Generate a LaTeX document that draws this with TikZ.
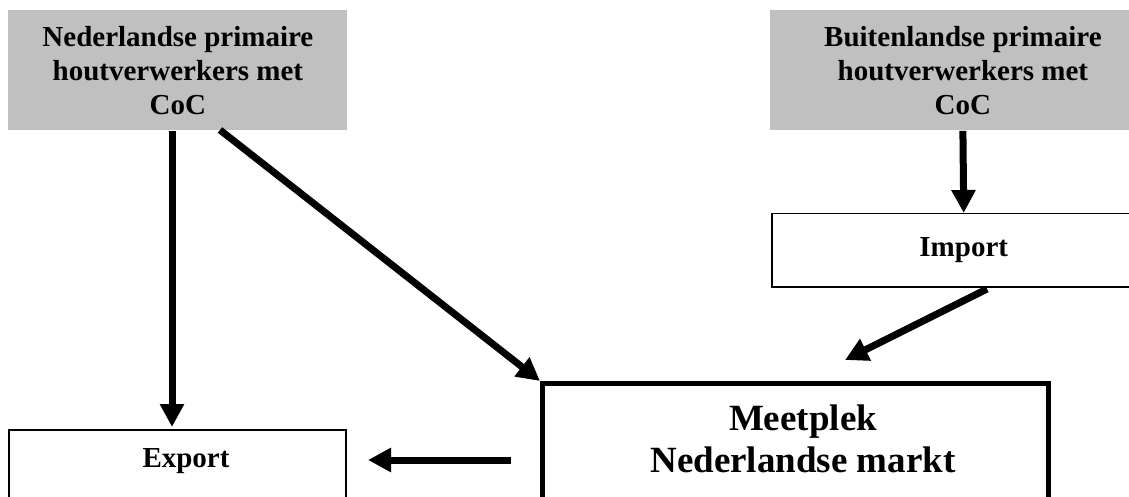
\documentclass[tikz,border=0pt]{standalone}
\usepackage{fontspec}
\setmainfont{Liberation Serif}
\usetikzlibrary{arrows.meta}
\definecolor{boxgray}{RGB}{192,192,192}

\begin{document}
\begin{tikzpicture}[x=0.5pt, y=-0.5pt,
    greybox/.style={fill=boxgray, inner sep=0pt, anchor=north west, align=center,
      font=\fontsize{14.5}{17}\selectfont\bfseries},
    thinbox/.style={draw, line width=0.75pt, inner sep=0pt, anchor=north west,
      font=\fontsize{14.5}{17}\selectfont\bfseries},
    flow/.style={line width=3.5pt, -{Triangle[length=11.5pt, width=11.5pt]}}]
  \useasboundingbox (0, 0) rectangle (1129, 497);
  \clip (0, 0) rectangle (1129, 497);
  % top boxes
  \node[greybox, minimum width=169.5pt, minimum height=60pt] (nl) at (8, 10)
    {Nederlandse primaire\\houtverwerkers met\\CoC};
  \node[greybox, minimum width=192.5pt, minimum height=60pt] (bl) at (770, 10)
    {Buitenlandse primaire\\houtverwerkers met\\CoC};
  \node[thinbox, minimum width=192pt, minimum height=36.5pt] (import) at (771, 213) {Import};
  % lower boxes, running off the page
  \node[draw, line width=2.5pt, inner sep=0pt, anchor=north west,
    minimum width=253pt, minimum height=89.5pt] (meet) at (540, 381) {};
  \node[align=center, inner sep=0pt, font=\fontsize{18.5}{21}\selectfont\bfseries] (meettxt)
    at (803, 438.5) {Meetplek\\Nederlandse markt};
  \node[thinbox, minimum width=168.5pt, minimum height=65.5pt] (export) at (8, 429) {};
  \node[inner sep=0pt, font=\fontsize{14.5}{17}\selectfont\bfseries] (exporttxt) at (186, 461) {Export};
  % arrows
  \coordinate (exptip) at (172, 427);
  \coordinate (diagstart) at (220, 130);
  \coordinate (impout) at (987, 289);
  \coordinate (meetin) at (845, 360);
  \coordinate (outtail) at (511, 460);
  \coordinate (outtip) at (368, 460);
  \draw[flow] (nl.south -| exptip) -- (exptip);
  \draw[flow] (diagstart) -- (meet.north west);
  \draw[flow] (bl.south) -- (import.north);
  \draw[flow] (impout) -- (meetin);
  \draw[flow] (outtail) -- (outtip);
\end{tikzpicture}
\end{document}
